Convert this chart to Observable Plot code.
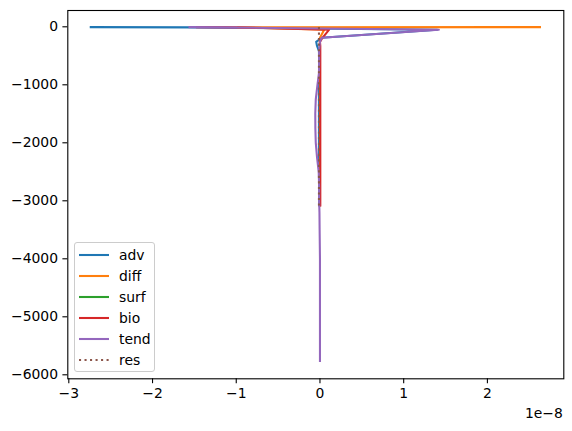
<!DOCTYPE html>
<html>
<head>
<meta charset="utf-8">
<script src="https://cdn.jsdelivr.net/npm/d3@7"></script>
<script src="https://cdn.jsdelivr.net/npm/@observablehq/plot@0.6"></script>
<style>
  body { margin: 0; background: white; }
  #wrap { position: relative; width: 572px; height: 431px; font-family: "DejaVu Sans", sans-serif; }
  #legend { position: absolute; left: 74px; top: 242px; width: 81px; height: 130px;
    background: rgba(255,255,255,0.8); border: 1px solid #cccccc; border-radius: 3px; box-sizing: border-box; }
  .row { position: absolute; left: 0; height: 20px; display: flex; align-items: center; }
  .row svg { position: absolute; left: 3px; }
  .row span { position: absolute; left: 44px; font-size: 13.9px; line-height: 20px; white-space: nowrap; }
</style>
</head>
<body>
<div id="wrap"><div id="chart"></div><div id="legend"></div></div>
<script>
// depth levels (m) for adv, diff, bio, res
const depth = [-5, -10, -50, -190, -260, -330, -420, -600, -800, -1000, -1250, -1500, -1750, -2000, -2250, -2500, -2750, -3000, -3100];
// depth levels (m) for tend (deeper profile)
const depthTend = [-5, -10, -50, -190, -260, -330, -420, -600, -800, -1000, -1250, -1500, -1750, -2000, -2250, -2500, -2750, -3000, -3200, -3500, -4000, -4500, -5000, -5500, -5780];
// surface forcing level
const depthSurf = [-5];

const adv  = [-2.75e-8, -1.55e-8, 1.40e-8, 0.02e-8, -0.045e-8, -0.035e-8, -0.012e-8, -0.01e-8, -0.01e-8, -0.012e-8, -0.012e-8, -0.012e-8, -0.012e-8, -0.012e-8, -0.012e-8, -0.01e-8, -0.01e-8, -0.01e-8, -0.01e-8];
const diff = [2.64e-8, -0.98e-8, 0.05e-8, 0.0, -0.002e-8, -0.002e-8, 0.0, 0.0, 0.0, 0.0, 0.0, 0.0, 0.0, 0.0, 0.0, 0.0, 0.0, 0.0, 0.0];
const surf = [0.0];
const bio  = [-1.48e-8, -1.0e-8, 0.11e-8, 0.03e-8, 0.0, 0.004e-8, 0.004e-8, 0.004e-8, 0.004e-8, 0.004e-8, 0.004e-8, 0.004e-8, 0.004e-8, 0.004e-8, 0.004e-8, 0.004e-8, 0.004e-8, 0.004e-8, 0.004e-8];
const tend = [-1.57e-8, -1.2e-8, 1.42e-8, 0.02e-8, 0.0, -0.005e-8, -0.01e-8, -0.01e-8, -0.012e-8, -0.03e-8, -0.05e-8, -0.056e-8, -0.055e-8, -0.05e-8, -0.035e-8, -0.015e-8, -0.01e-8, -0.01e-8, -0.006e-8, -0.004e-8, 0.0, 0.0, 0.0, 0.0, 0.0];
const res  = [-0.012e-8, -0.012e-8, -0.012e-8, -0.012e-8, -0.012e-8, -0.012e-8, -0.012e-8, -0.012e-8, -0.012e-8, -0.012e-8, -0.012e-8, -0.012e-8, -0.012e-8, -0.012e-8, -0.012e-8, -0.012e-8, -0.012e-8, -0.012e-8, -0.012e-8];

const xTicks = [-3e-8, -2e-8, -1e-8, 0, 1e-8, 2e-8];
const yTicks = [0, -1000, -2000, -3000, -4000, -5000, -6000];
const seriesNames = ["adv", "diff", "surf", "bio", "tend", "res"];
const colors = ["#1f77b4", "#ff7f0e", "#2ca02c", "#d62728", "#9467bd", "#8c564b"];
const offsetText = "1e\u22128";

const fmt = v => { const r = Math.round(v); return r < 0 ? "\u2212" + (-r) : String(r); };
const rows = (vals, deps) => vals.map((v, i) => ({x: v, y: deps[i]}));

const LW = 2.08;
const DOT = "2.08,3.43";
const lineOpts = (c, extra = {}) => Object.assign({x: "x", y: "y", stroke: c, strokeWidth: LW, strokeLinejoin: "round", strokeLinecap: "butt"}, extra);

const chart = Plot.plot({
  width: 572, height: 431,
  marginLeft: 67.3, marginRight: 8.7, marginTop: 10, marginBottom: 52.7,
  style: {fontFamily: "DejaVu Sans", fontSize: "13.9px", color: "black", background: "white"},
  x: {domain: [-3.012e-8, 2.9125e-8]},
  y: {domain: [-6069, 281]},
  marks: [
    Plot.line(rows(adv, depth), lineOpts(colors[0])),
    Plot.line(rows(diff, depth), lineOpts(colors[1])),
    Plot.line(rows(surf, depthSurf), lineOpts(colors[2])),
    Plot.line(rows(bio, depth), lineOpts(colors[3])),
    Plot.line(rows(tend, depthTend), lineOpts(colors[4])),
    Plot.line(rows(res, depth), lineOpts(colors[5], {strokeDasharray: DOT})),
    Plot.frame({stroke: "black", strokeWidth: 1.1}),
    Plot.axisX({ticks: xTicks, tickFormat: d => fmt(d * 1e8), tickSize: 4.9, tickPadding: 4.4, label: null, fontSize: 13.9, strokeWidth: 1.1}),
    Plot.axisY({ticks: yTicks, tickFormat: fmt, tickSize: 4.9, tickPadding: 4.9, label: null, fontSize: 13.9, strokeWidth: 1.1}),
    Plot.text([offsetText], {text: d => d, frameAnchor: "bottom-right", textAnchor: "end", lineAnchor: "middle", dx: -1, dy: 34.4, fontSize: 13.9})
  ]
});
document.getElementById("chart").appendChild(chart);

const legend = document.getElementById("legend");
const rowTops = [2, 23, 44, 65, 86, 107];
seriesNames.forEach((name, i) => {
  const row = document.createElement("div");
  row.className = "row";
  row.style.top = rowTops[i] + "px";
  const dash = name === "res" ? ` stroke-dasharray="${DOT}"` : "";
  row.innerHTML = `<svg width="32" height="20"><line x1="1" x2="31" y1="10" y2="10" stroke="${colors[i]}" stroke-width="${LW}"${dash}/></svg><span>${name}</span>`;
  legend.appendChild(row);
});
</script>
</body>
</html>
